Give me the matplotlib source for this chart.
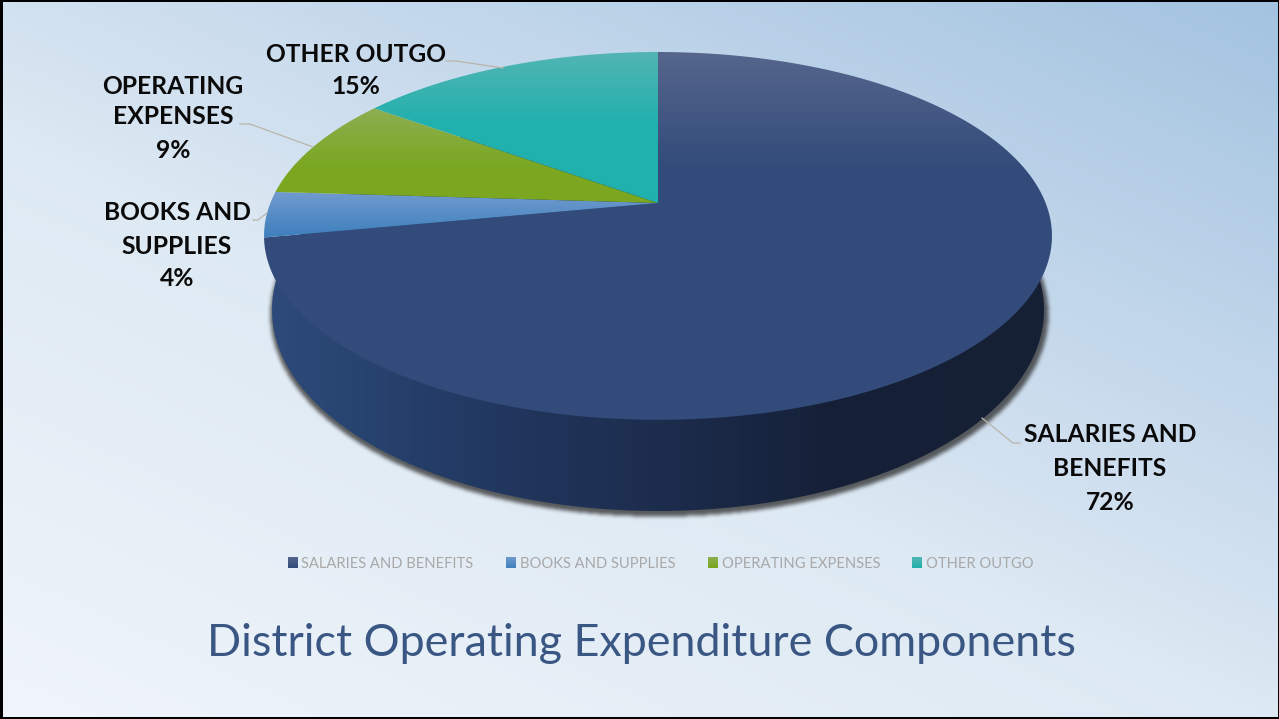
import numpy as np
import matplotlib
matplotlib.use("Agg")
import matplotlib.pyplot as plt
from matplotlib.colors import LinearSegmentedColormap, to_rgb
from matplotlib.patches import Polygon, Rectangle

# chart data
categories = ["SALARIES AND BENEFITS", "BOOKS AND SUPPLIES", "OPERATING EXPENSES", "OTHER OUTGO"]
label_lines = [["SALARIES AND", "BENEFITS"], ["BOOKS AND", "SUPPLIES"], ["OPERATING", "EXPENSES"], ["OTHER OUTGO"]]
values = [72, 4, 9, 15]
title = "District Operating Expenditure Components"

W, H = 1279, 719
plt.rcParams["font.family"] = ["Lato", "DejaVu Sans"]

# pie geometry in pixels (perspective view of a disc)
APEX_X, APEX_Y = 658, 203
RADIUS = 387.6
DEPTH_A = 178.0
DEPTH_K = 0.179
WALL_CY, WALL_RX, WALL_RY = 310, 386, 201

# wedge shading: top colour, bottom colour, y where shading starts and ends
wedge_styles = [
    ("#55658c", "#324b7a", 55, 170),
    ("#6f9ace", "#3f80bd", 193, 236),
    ("#8cae50", "#7aa71f", 110, 170),
    ("#52b5b3", "#20b0ad", 52, 125),
]
swatch_x = [288, 506, 708, 912]
legend_text_x = [301, 520, 722, 926]
label_pos = [(1110, [435, 468, 502]), (177, [213, 246, 279]), (173, [86, 117, 151]), (356, [54, 87])]
leaders = [
    [(982, 418), (1013, 443), (1020, 443)],
    [(253, 220), (258, 220), (267, 213)],
    [(240, 124), (250, 124), (313, 147)],
    [(446, 61), (456, 61), (503, 68)],
]


def project(theta):
    # theta runs counter-clockwise from twelve o'clock on the flat disc
    px = -np.sin(theta)
    py = np.cos(theta)
    scale = 1 + DEPTH_K * py
    return APEX_X + RADIUS * px / scale, APEX_Y - DEPTH_A * py / scale


def vertical_image(ax, c_top, c_bot, y0, y1, clip, zorder):
    cmap = LinearSegmentedColormap.from_list("g", [c_top, c_bot])
    ys = np.clip((np.arange(H) + 0.5 - y0) / (y1 - y0), 0, 1).reshape(-1, 1)
    im = ax.imshow(ys, cmap=cmap, vmin=0, vmax=1, extent=(0, W, H, 0), aspect="auto", zorder=zorder)
    im.set_clip_path(clip)
    return im


def box_blur(a, n, passes=3):
    kernel = np.ones(n) / n
    for _ in range(passes):
        a = np.apply_along_axis(lambda r: np.convolve(r, kernel, mode="same"), 0, a)
        a = np.apply_along_axis(lambda r: np.convolve(r, kernel, mode="same"), 1, a)
    return a


fig = plt.figure(figsize=(W / 100, H / 100), dpi=100)
ax = fig.add_axes([0, 0, 1, 1])
ax.set_xlim(0, W)
ax.set_ylim(H, 0)
ax.axis("off")

# slide background
xx, yy = np.meshgrid((np.arange(W) + 0.5) / W, (np.arange(H) + 0.5) / H)
t = 0.45 * xx + 0.55 * (1 - yy)
bg_cmap = LinearSegmentedColormap.from_list(
    "bg", [(0, "#f0f5fb"), (0.45, "#dde9f3"), (0.55, "#d2e1f0"), (1, "#a3c3e0")]
)
ax.imshow(t, cmap=bg_cmap, vmin=0, vmax=1, extent=(0, W, H, 0), aspect="auto", zorder=0)

# soft shadow under the disc
inside = ((xx * W - APEX_X) / (WALL_RX + 3)) ** 2 + ((yy * H - WALL_CY - 3) / (WALL_RY + 1)) ** 2 <= 1
shadow = box_blur(inside.astype(float), 4)
rgba = np.zeros((H, W, 4))
rgba[..., :3] = to_rgb("#2a2a2a")
rgba[..., 3] = shadow * 0.75
ax.imshow(rgba, extent=(0, W, H, 0), aspect="auto", zorder=1)

# side wall, shaded left to right
a = np.linspace(0, 2 * np.pi, 720)
wall = Polygon(
    np.c_[APEX_X + WALL_RX * np.cos(a), WALL_CY + WALL_RY * np.sin(a)],
    closed=True, transform=ax.transData, fc="none", ec="none",
)
ax.add_patch(wall)
wall_cmap = LinearSegmentedColormap.from_list(
    "wall", [(0, "#2e4a7a"), (0.12, "#27436f"), (0.35, "#20345a"), (0.55, "#1b2a49"), (0.75, "#151f35"), (1, "#172135")]
)
im = ax.imshow(((np.arange(W) + 0.5 - 270) / 776).clip(0, 1).reshape(1, -1), cmap=wall_cmap, vmin=0, vmax=1,
               extent=(0, W, H, 0), aspect="auto", zorder=2)
im.set_clip_path(wall)

# top face wedges from the values
fractions = np.cumsum([0] + values) / sum(values)
for i, val in enumerate(values):
    # first wedge starts at twelve o'clock and runs clockwise
    start = -2 * np.pi * fractions[i]
    end = -2 * np.pi * fractions[i + 1]
    th = np.linspace(start, end, 400)
    x, y = project(th)
    wedge = Polygon(np.c_[np.r_[APEX_X, x], np.r_[APEX_Y, y]], closed=True,
                    transform=ax.transData, fc="none", ec="none")
    ax.add_patch(wedge)
    c_top, c_bot, y0, y1 = wedge_styles[i]
    vertical_image(ax, c_top, c_bot, y0, y1, wedge, 3)

# leader lines
for pts in leaders:
    ax.plot(*zip(*pts), color="#b9b5aa", lw=0.9, zorder=4)

# data labels
for i, val in enumerate(values):
    cx, ys = label_pos[i]
    for line, ly in zip(label_lines[i] + [f"{val}%"], ys):
        ax.text(cx, ly, line, ha="center", va="center", fontsize=17.7, fontweight="bold", color="#0a0a0a", zorder=5)

# legend
for i, name in enumerate(categories):
    c_top, c_bot, _, _ = wedge_styles[i]
    swatch = Rectangle((swatch_x[i], 557), 10, 11, transform=ax.transData, fc="none", ec="none")
    ax.add_patch(swatch)
    vertical_image(ax, c_top, c_bot, 557, 568, swatch, 5)
    ax.text(legend_text_x[i], 564, name, ha="left", va="center", fontsize=10.6, color="#a8a8a8", zorder=5)

ax.text(641, 643, title, ha="center", va="center", fontsize=32.3, color="#3a5683", zorder=5)

# black slide frame, heavier on the top and left
for x0, y0, w, h in [(0, 0, 3, H), (0, 0, W, 2), (W - 1, 0, 1, H), (0, H - 2, W, 2)]:
    ax.add_patch(Rectangle((x0, y0), w, h, fc="black", ec="none", zorder=6))

ax.set_xlim(0, W)
ax.set_ylim(H, 0)
fig.savefig("out.png", dpi=100)
